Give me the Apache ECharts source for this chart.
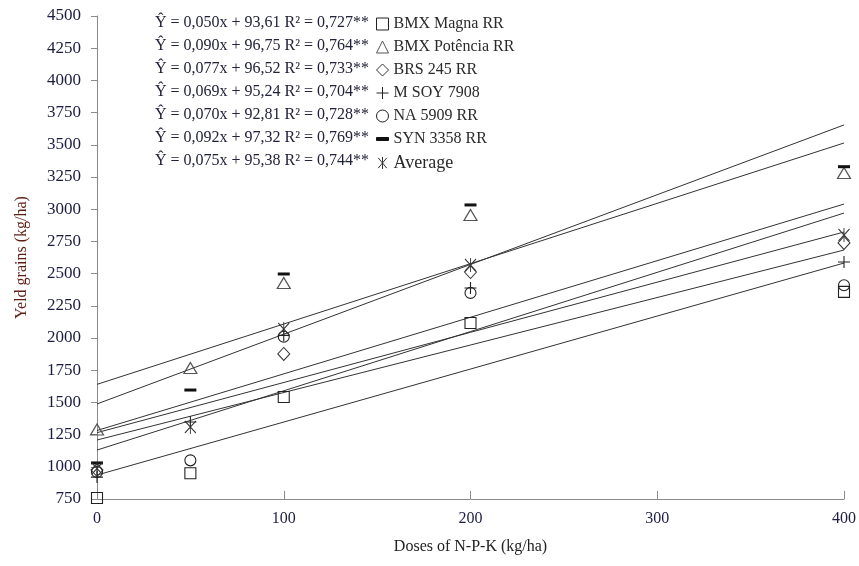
<!DOCTYPE html>
<html>
<head>
<meta charset="utf-8">
<script src="https://cdn.jsdelivr.net/npm/echarts@6/dist/echarts.min.js"></script>
<style>
html,body{margin:0;padding:0;background:#fff;}
#chart{width:859px;height:566px;}
</style>
</head>
<body>
<div id="chart"></div>
<script>
// ---- data ----
const categories = ['BMX Magna RR', 'BMX Potência RR', 'BRS 245 RR', 'M SOY 7908', 'NA 5909 RR', 'SYN 3358 RR', 'Average'];
const equations = [
  'Ŷ = 0,050x + 93,61 R² = 0,727**',
  'Ŷ = 0,090x + 96,75 R² = 0,764**',
  'Ŷ = 0,077x + 96,52 R² = 0,733**',
  'Ŷ = 0,069x + 95,24 R² = 0,704**',
  'Ŷ = 0,070x + 92,81 R² = 0,728**',
  'Ŷ = 0,092x + 97,32 R² = 0,769**',
  'Ŷ = 0,075x + 95,38 R² = 0,744**'
];
const doses = [0, 50, 100, 200, 400];
const magna    = [758, 950, 1542, 2116, 2358];
const potencia = [1290, 1767, 2427, 2955, 3281];
const brs      = [975, null, 1876, 2512, 2738];
const msoy     = [920, 1348, 2020, 2388, 2590];
const na       = [960, 1050, 2010, 2350, 2410];
const syn      = [1030, 1596, 2497, 3033, 3330];
const average  = [987, 1309, 2070, 2567, 2800];
// fitted trend lines read at dose 0 and dose 400
const trendDoses = [0, 400];
const trendStart = [936, 1640, 1130, 1265, 1208, 1488, 1282];
const trendEnd   = [2582, 3514, 2970, 2823, 2683, 3654, 3040];
const xTicks = [0, 100, 200, 300, 400];
const yTickMin = 750, yTickMax = 4500, yTickStep = 250;

// ---- styles ----
const serif = "'Liberation Serif', 'Times New Roman', serif";
const seriesValues = [magna, potencia, brs, msoy, na, syn, average];
const symbols = [
  {symbol: 'rect', size: 11, color: 'transparent', border: '#222', bw: 1.1},
  {symbol: 'triangle', size: [13, 11], color: 'transparent', border: '#555', bw: 1.2},
  {symbol: 'diamond', size: [12, 13], color: 'transparent', border: '#333', bw: 1.0},
  {symbol: 'path://M0,6H12M6,0V12', size: 12, color: 'transparent', border: '#222', bw: 1.1},
  {symbol: 'circle', size: 11, color: 'transparent', border: '#222', bw: 1.1},
  {symbol: 'rect', size: [12, 3], color: '#111', border: '#111', bw: 0},
  {symbol: 'path://M0,1L10,13M10,1L0,13M5,0V14', size: [11, 14], color: 'transparent', border: '#333', bw: 1.0}
];
const legendIcons = ['rect', 'triangle', 'diamond', 'path://M0,6H12M6,0V12', 'circle', 'path://M0,0H12V3H0Z', 'path://M0,1L10,13M10,1L0,13M5,0V14'];

const series = [];
categories.forEach((name, i) => {
  series.push({
    name: 'trend ' + name,
    type: 'line',
    silent: true,
    symbol: 'none',
    data: trendDoses.map((d, k) => [d, k === 0 ? trendStart[i] : trendEnd[i]]),
    lineStyle: {color: '#333', width: 1},
    z: 1
  });
});
categories.forEach((name, i) => {
  const s = symbols[i];
  series.push({
    name: name,
    type: 'scatter',
    symbol: s.symbol,
    symbolSize: s.size,
    data: doses.map((d, k) => [d, seriesValues[i][k]]).filter(p => p[1] !== null),
    itemStyle: {color: s.color, borderColor: s.border, borderWidth: s.bw, opacity: 1},
    z: 3
  });
});

const rowY0 = 23, rowStep = 23;
const eqGraphics = equations.map((t, i) => ({
  type: 'text',
  x: 369,
  y: rowY0 + i * rowStep,
  style: {
    text: t,
    font: "16px " + serif,
    fill: '#22223a',
    textAlign: 'right',
    textVerticalAlign: 'middle'
  }
}));

const chart = echarts.init(document.getElementById('chart'), null, {renderer: 'canvas'});
chart.setOption({
  animation: false,
  backgroundColor: '#fff',
  grid: {left: 97, right: 14, top: 16, bottom: 67},
  xAxis: {
    type: 'value',
    min: xTicks[0], max: xTicks[xTicks.length - 1], interval: xTicks[1] - xTicks[0],
    name: 'Doses of N-P-K (kg/ha)',
    nameLocation: 'middle',
    nameGap: 40,
    nameTextStyle: {fontFamily: serif, fontSize: 16, color: '#222'},
    axisLine: {show: true, lineStyle: {color: '#8a8a8a', width: 1}},
    axisTick: {show: true, inside: true, length: 8, lineStyle: {color: '#8a8a8a'}},
    axisLabel: {fontFamily: serif, fontSize: 16, color: '#1c1c44', margin: 12, formatter: v => String(v)},
    splitLine: {show: false}
  },
  yAxis: {
    type: 'value',
    min: yTickMin, max: yTickMax, interval: yTickStep,
    name: 'Yeld grains (kg/ha)',
    nameLocation: 'middle',
    nameGap: 67,
    nameTextStyle: {fontFamily: serif, fontSize: 16, color: '#5e1e14'},
    axisLine: {show: true, lineStyle: {color: '#8a8a8a', width: 1}},
    axisTick: {show: true, inside: false, length: 6, lineStyle: {color: '#8a8a8a'}},
    axisLabel: {fontFamily: serif, fontSize: 17, color: '#1c1c44', margin: 16, formatter: v => String(v)},
    splitLine: {show: false}
  },
  legend: {
    orient: 'vertical',
    left: 376,
    top: 16,
    itemWidth: 12,
    itemHeight: 12,
    itemGap: 7,
    padding: 0,
    selectedMode: false,
    itemStyle: {borderWidth: 1},
    textStyle: {fontFamily: serif, fontSize: 16, color: '#2a2a2a', lineHeight: 16},
    data: categories.map((name, i) => {
      const d = {name: name, icon: legendIcons[i]};
      if (i === categories.length - 1) d.textStyle = {fontSize: 18, lineHeight: 18};
      return d;
    })
  },
  graphic: eqGraphics,
  series: series
});
</script>
</body>
</html>
